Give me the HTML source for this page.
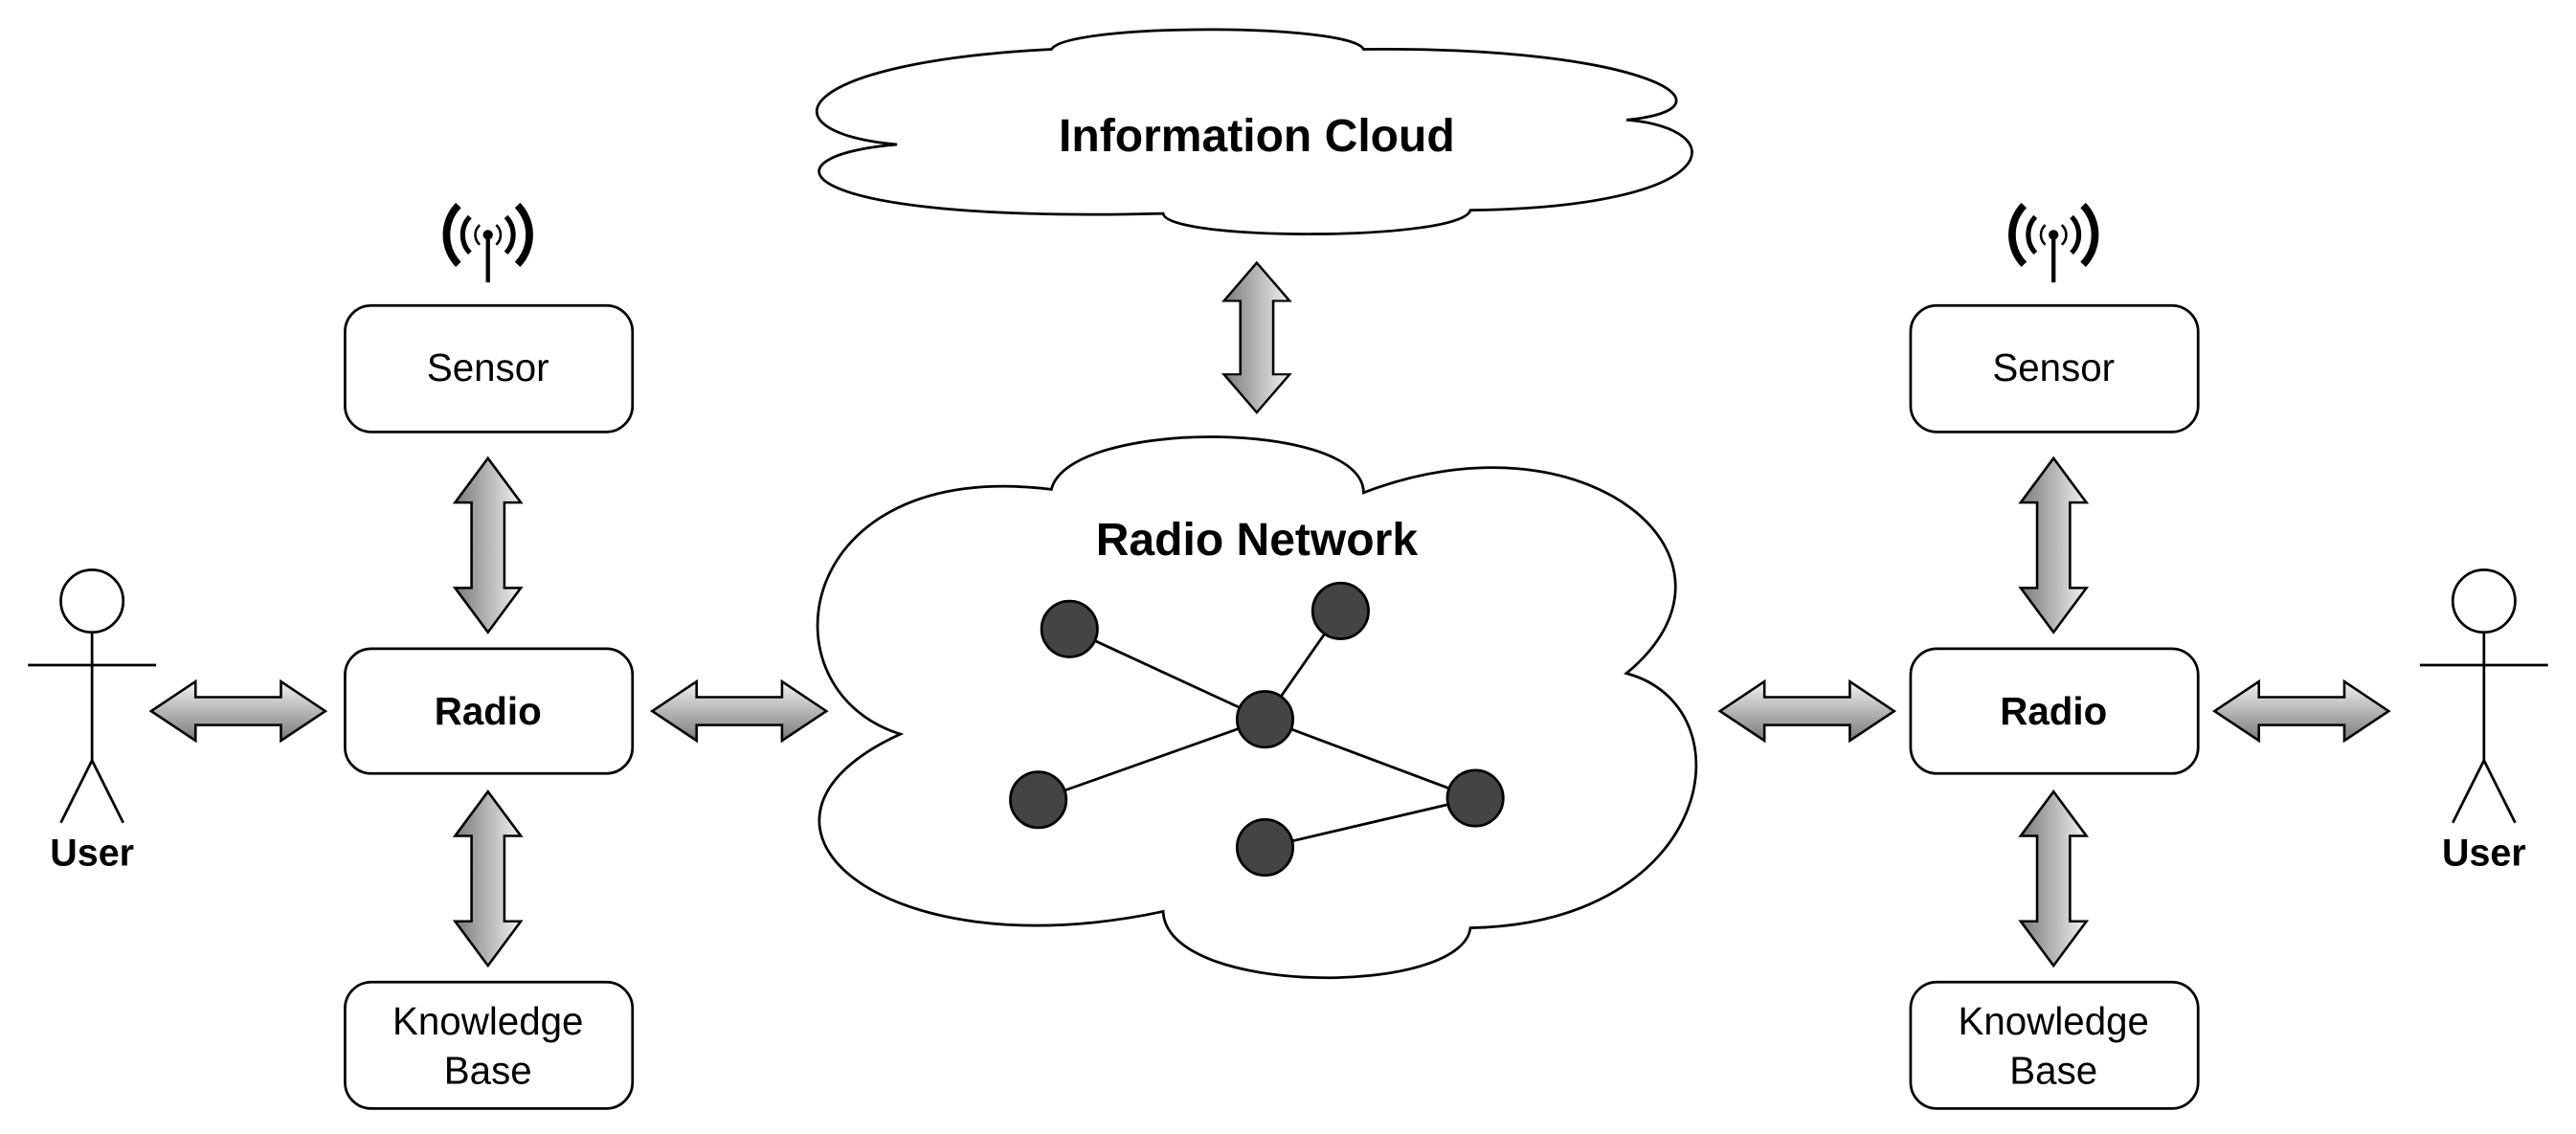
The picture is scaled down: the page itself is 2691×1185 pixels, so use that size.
<!DOCTYPE html>
<html><head><meta charset="utf-8"><style>html,body{margin:0;padding:0;background:#fff}svg{display:block}</style></head>
<body>
<svg width="2691" height="1185" viewBox="0 0 1568 690.5" xmlns="http://www.w3.org/2000/svg" font-family="Liberation Sans, sans-serif">
<defs>
<linearGradient id="gh" x1="0" y1="0" x2="0" y2="1"><stop offset="0" stop-color="#f2f2f2"/><stop offset="1" stop-color="#7a7a7a"/></linearGradient>
<linearGradient id="gv" x1="0" y1="0" x2="1" y2="0"><stop offset="0" stop-color="#7a7a7a"/><stop offset="1" stop-color="#f2f2f2"/></linearGradient>
<g id="ant" fill="none" stroke="#000" stroke-linecap="butt">
 <path d="M-5,-6 A8,8 0 0 0 -5,6 M5,-6 A8,8 0 0 1 5,6" stroke-width="1.5"/>
 <path d="M-11,-11 A16,16 0 0 0 -11,11 M11,-11 A16,16 0 0 1 11,11" stroke-width="3"/>
 <path d="M-18,-18 A26,26 0 0 0 -18,18 M18,-18 A26,26 0 0 1 18,18" stroke-width="4.5"/>
 <line x1="0" y1="0" x2="0" y2="29" stroke-width="2.5"/>
 <circle cx="0" cy="0" r="2.5" fill="#000"/>
</g>
<path id="ha" d="M0,0 L27,-18 L27,-8.5 L79,-8.5 L79,-18 L106,0 L79,18 L79,8.5 L27,8.5 L27,18 Z" fill="url(#gh)" stroke="#000" stroke-width="1.5"/>
<path id="va" d="M0,0 L-20,27 L-10,27 L-10,79 L-20,79 L0,106 L20,79 L10,79 L10,27 L20,27 Z" fill="url(#gv)" stroke="#000" stroke-width="1.5"/>
<g id="user" fill="none" stroke="#000" stroke-width="1.6">
 <circle cx="0" cy="366" r="19"/>
 <line x1="0" y1="385" x2="0" y2="463"/>
 <line x1="-39" y1="405" x2="39" y2="405"/>
 <line x1="0" y1="463" x2="-19" y2="501"/>
 <line x1="0" y1="463" x2="19" y2="501"/>
</g>
</defs>

<path d="M546,88 C462,80 482,38 640,30 C650,14 822,14 830,30 C1005,28 1062,66 990,73 C1055,78 1052,126 895,128 C890,147 710,147 708,130 C478,136 460,95 546,88 Z" fill="#fff" stroke="#000" stroke-width="1.6"/>
<text x="765" y="92" text-anchor="middle" font-weight="bold" font-size="28">Information Cloud</text>

<path d="M640,298 C650,255 830,255 830,300 C965,248 1075,340 990,410 C1065,430 1045,562 895,565 C890,607 710,607 708,555 C535,592 432,500 548,447 C462,420 482,278 640,298 Z" fill="#fff" stroke="#000" stroke-width="1.6"/>
<text x="765" y="338" text-anchor="middle" font-weight="bold" font-size="28">Radio Network</text>
<g stroke="#000" stroke-width="1.6">
 <line x1="651" y1="383" x2="770" y2="438"/>
 <line x1="816" y1="372" x2="770" y2="438"/>
 <line x1="632" y1="487" x2="770" y2="438"/>
 <line x1="898" y1="486" x2="770" y2="438"/>
 <line x1="770" y1="516" x2="898" y2="486"/>
 <g fill="#444">
 <circle cx="651" cy="383" r="17"/><circle cx="816" cy="372" r="17"/><circle cx="770" cy="438" r="17"/>
 <circle cx="632" cy="487" r="17"/><circle cx="898" cy="486" r="17"/><circle cx="770" cy="516" r="17"/>
 </g>
</g>

<use href="#va" transform="translate(765,160) scale(1,0.86) translate(-765,-160)" x="765" y="160"/>
<use href="#va" x="297" y="279"/>
<use href="#va" x="297" y="482"/>
<use href="#va" x="1250" y="279"/>
<use href="#va" x="1250" y="482"/>
<use href="#ha" x="92" y="433"/>
<use href="#ha" x="397" y="433"/>
<use href="#ha" x="1047" y="433"/>
<use href="#ha" x="1348" y="433"/>

<g fill="#fff" stroke="#000" stroke-width="1.6">
 <rect x="210" y="186" width="175" height="77" rx="16"/>
 <rect x="210" y="395" width="175" height="76" rx="16"/>
 <rect x="210" y="598" width="175" height="77" rx="16"/>
 <rect x="1163" y="186" width="175" height="77" rx="16"/>
 <rect x="1163" y="395" width="175" height="76" rx="16"/>
 <rect x="1163" y="598" width="175" height="77" rx="16"/>
</g>
<g font-size="23.5" text-anchor="middle">
 <text x="297" y="232">Sensor</text>
 <text x="297" y="441" font-weight="bold">Radio</text>
 <text x="297" y="630">Knowledge</text><text x="297" y="660">Base</text>
 <text x="1250" y="232">Sensor</text>
 <text x="1250" y="441" font-weight="bold">Radio</text>
 <text x="1250" y="630">Knowledge</text><text x="1250" y="660">Base</text>
</g>

<use href="#ant" x="297" y="143"/>
<use href="#ant" x="1250" y="143"/>

<use href="#user" x="56" y="0"/>
<use href="#user" x="1512" y="0"/>
<text x="56" y="527" text-anchor="middle" font-weight="bold" font-size="23">User</text>
<text x="1512" y="527" text-anchor="middle" font-weight="bold" font-size="23">User</text>
</svg>
</body></html>
